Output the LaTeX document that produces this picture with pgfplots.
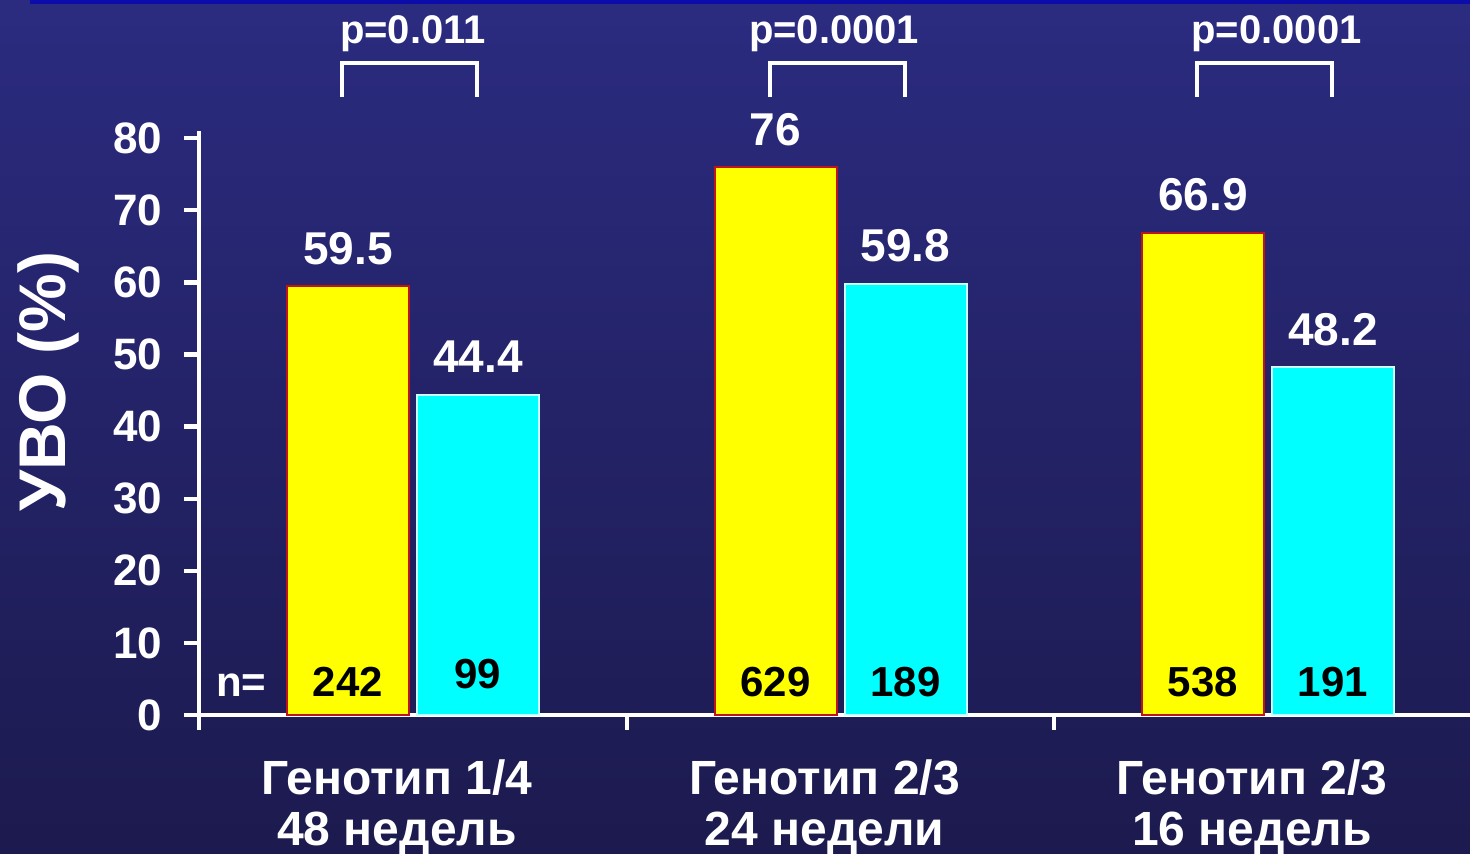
\documentclass[border=0pt]{standalone}
\usepackage{fontspec}
\setmainfont{Liberation Sans}
\usepackage{pgfplots}
\pgfplotsset{compat=1.18}
\definecolor{bgtop}{RGB}{43,43,128}
\definecolor{bgbot}{RGB}{28,26,78}
\definecolor{topline}{RGB}{12,12,170}
\definecolor{barY}{RGB}{255,255,0}
\definecolor{barC}{RGB}{0,255,255}
\definecolor{edgeY}{RGB}{190,20,20}
\definecolor{edgeC}{RGB}{200,255,255}
\begin{document}
\begin{tikzpicture}
\shade[top color=bgtop, bottom color=bgbot] (-99.625pt,-69pt) rectangle (635.375pt,357.5pt);
\fill[topline] (-84.6pt,355.5pt) rectangle (635.375pt,357.5pt);
\begin{axis}[
  at={(0,0)}, anchor=south west,
  x=213.75pt, y=3.605pt,
  xmin=-0.5, xmax=2.4725, ymin=0, ymax=81,
  axis x line*=bottom, axis y line*=left,
  axis line style={white, line width=2.2pt},
  tick style={white, line width=2.2pt},
  tick align=outside, major tick length=7.5pt,
  ytick={0,10,...,80},
  xtick={-0.5,0.5,1.5}, xticklabels={},
  extra x ticks={0,1,2},
  extra x tick labels={{Генотип 1/4\\48 недель},{Генотип 2/3\\24 недели},{Генотип 2/3\\16 недель}},
  extra x tick style={major tick length=0pt, xticklabel style={align=center, font=\fontsize{24}{25.5}\selectfont\bfseries, text=white, xshift=-8pt, yshift=-19pt}},
  yticklabel style={font=\fontsize{22}{24}\selectfont\bfseries, text=white, xshift=-7.5pt},
  /pgf/number format/assume math mode=true,
  every axis y label/.style={at={(axis description cs:-0.119,0.571)}, rotate=90, anchor=center, font=\fontsize{33}{36}\selectfont\bfseries, text=white},
  ylabel={УВО (\%)},
  clip=false,
]
\addplot[ybar, bar width=61pt, bar shift=-32.5pt, fill=barY, draw=edgeY, line width=1pt,
  nodes near coords,
  every node near coord/.append style={anchor=base, xshift=-32.5pt, yshift=11pt, inner sep=0pt, text=white, font=\fontsize{23}{25}\selectfont\bfseries}]
  coordinates {(0,59.5) (1,76) (2,66.9)};
\addplot[ybar, bar width=61pt, bar shift=32.5pt, fill=barC, draw=edgeC, line width=1pt,
  nodes near coords,
  every node near coord/.append style={anchor=base, xshift=32.5pt, yshift=11pt, inner sep=0pt, text=white, font=\fontsize{23}{25}\selectfont\bfseries}]
  coordinates {(0,44.4) (1,59.8) (2,48.2)};
% n values
\addplot[draw=none, nodes near coords, point meta=explicit symbolic,
  every node near coord/.append style={anchor=base, inner sep=0pt, text=black, font=\fontsize{21}{23}\selectfont\bfseries}]
  table[meta=lab] {
x y lab
-0.152 2.5 242
0.152 3.74 99
0.848 2.5 629
1.152 2.5 189
1.848 2.5 538
2.152 2.5 191
};
\addplot[draw=none, nodes near coords, point meta=explicit symbolic,
  every node near coord/.append style={anchor=base, inner sep=0pt, text=white, font=\fontsize{21}{23}\selectfont\bfseries}]
  table[meta=lab] {
x y lab
-0.402 2.5 n=
};
% p values
\addplot[draw=none, nodes near coords, point meta=explicit symbolic,
  every node near coord/.append style={anchor=base, inner sep=0pt, text=white, font=\fontsize{20}{22}\selectfont\bfseries}]
  table[meta=lab] {
x y lab
0 93.2 p=0.011
0.985 93.2 p=0.0001
2.02 93.2 p=0.0001
};
\addplot[white, line width=2pt, line join=miter] coordinates {(-0.166,85.7) (-0.166,90.4) (0.15,90.4) (0.15,85.7)};
\addplot[white, line width=2pt, line join=miter] coordinates {(0.834,85.7) (0.834,90.4) (1.15,90.4) (1.15,85.7)};
\addplot[white, line width=2pt, line join=miter] coordinates {(1.834,85.7) (1.834,90.4) (2.15,90.4) (2.15,85.7)};
\end{axis}
\pgfresetboundingbox
\useasboundingbox (-99.625pt,-69pt) rectangle (635.375pt,357.5pt);
\end{tikzpicture}
\end{document}
